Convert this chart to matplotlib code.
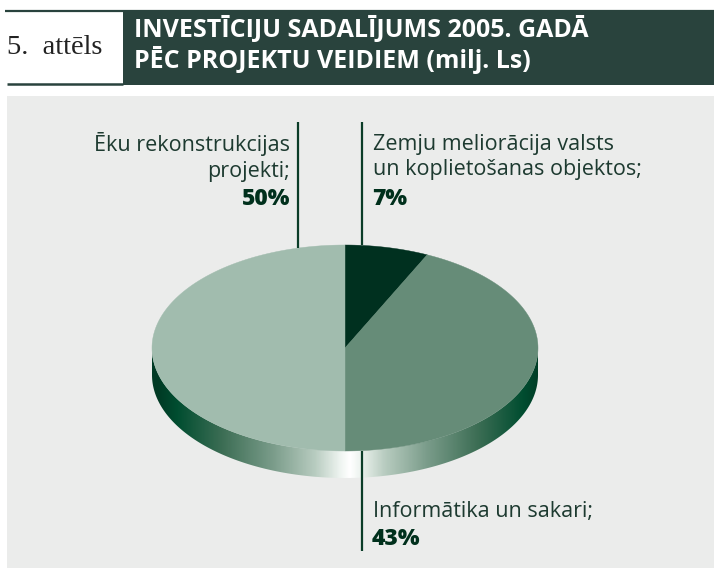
import numpy as np
import matplotlib
matplotlib.use("Agg")
import matplotlib.pyplot as plt
from matplotlib.patches import Polygon, Rectangle
from matplotlib.colors import LinearSegmentedColormap

# ---------------- data ----------------
categories = ["Zemju meliorācija valsts\nun koplietošanas objektos;",
              "Informātika un sakari;",
              "Ēku rekonstrukcijas\nprojekti;"]
shares = [7, 43, 50]
pct_labels = ["7%", "43%", "50%"]
slice_colors = ["#00301f", "#668c78", "#a1bcae"]

title_num = "5.  attēls"
title_text = "INVESTĪCIJU SADALĪJUMS 2005. GADĀ\nPĒC PROJEKTU VEIDIEM (milj. Ls)"

# ---------------- figure ----------------
W, H = 714, 572
fig = plt.figure(figsize=(W / 100, H / 100), dpi=100)
ax = fig.add_axes([0, 0, 1, 1])
ax.set_xlim(0, W)
ax.set_ylim(H, 0)
ax.axis("off")
fig.patch.set_facecolor("white")

header_col = "#29433d"
panel_col = "#ebeceb"
line_col = "#0b3d28"
label_col = "#1d3a30"
pct_col = "#00301c"
FONT = "Open Sans"

# header
ax.plot([5, W], [10.5, 10.5], color=header_col, lw=1.6, solid_capstyle="butt")
ax.plot([7, 123], [84, 84], color=header_col, lw=1.8, solid_capstyle="butt")
ax.add_patch(Rectangle((123, 10), W - 123, 75, facecolor=header_col, edgecolor="none"))
ax.text(7, 47, title_num, fontsize=20.5, family="Liberation Serif", color="#222222",
        va="center", ha="left")
ax.text(134, 45, title_text, fontsize=18, family=FONT, fontweight="bold",
        color="white", va="center", ha="left", linespacing=1.12)

# panel
ax.add_patch(Rectangle((7, 96), W - 7, 472, facecolor=panel_col, edgecolor="none"))

# ---------------- 3D pie ----------------
cx, cy, rx, ry, depth = 345, 348, 193, 103, 27


def ell(theta, dy=0.0):
    # theta measured clockwise from 12 o'clock
    return cx + rx * np.sin(theta), cy - ry * np.cos(theta) + dy


# side (lower half)
th = np.linspace(np.pi / 2, 3 * np.pi / 2, 200)
xt, yt = ell(th)
xb, yb = ell(th[::-1], depth)
side_poly = Polygon(np.column_stack([np.r_[xt, xb], np.r_[yt, yb]]),
                    closed=True, facecolor="none", edgecolor="none")
ax.add_patch(side_poly)
cmap = LinearSegmentedColormap.from_list(
    "side", [(0.0, "#003a24"), (0.1, "#004d30"), (0.34, "#3d6e55"),
             (0.6, "#7a9c8a"), (0.82, "#b8ccc0"), (0.95, "#eef4f0"), (1.0, "#ffffff")])
xs = np.linspace(cx - rx, cx + rx, 600)
t = np.clip(1 - np.abs(xs - 350) / rx, 0, 1)
img = np.tile(t, (2, 1))
im = ax.imshow(img, cmap=cmap, vmin=0, vmax=1, aspect="auto",
               extent=(cx - rx, cx + rx, cy + ry + depth + 2, cy - 2),
               interpolation="bilinear", zorder=1)
im.set_clip_path(side_poly)
ax.set_xlim(0, W)
ax.set_ylim(H, 0)

# top slices
total = float(sum(shares))
start = 0.0
for val, col in zip(shares, slice_colors):
    a0 = start / total * 2 * np.pi
    a1 = (start + val) / total * 2 * np.pi
    tt = np.linspace(a0, a1, max(int(val * 4), 10))
    px, py = ell(tt)
    poly = Polygon(np.column_stack([np.r_[cx, px], np.r_[cy, py]]), closed=True,
                   facecolor=col, edgecolor=col, lw=0.3, zorder=2)
    ax.add_patch(poly)
    start += val


def top_y(x, sign=-1):
    return cy + sign * ry * np.sqrt(max(0.0, 1 - ((x - cx) / rx) ** 2))


# leader lines and labels
lw_lead = 1.6
LFS, PFS = 15.5, 16.5
# 7%
x1 = 362
ax.plot([x1, x1], [122, top_y(x1)], color=line_col, lw=lw_lead, zorder=3, solid_capstyle="butt")
ax.text(373, 157, categories[0], fontsize=LFS, family=FONT, color=label_col,
        ha="left", va="center", linespacing=1.27)
ax.text(372, 199, pct_labels[0], fontsize=PFS, family=FONT, fontweight="heavy",
        color=pct_col, ha="left", va="center")
# 50%
x2 = 298
ax.plot([x2, x2], [122, top_y(x2)], color=line_col, lw=lw_lead, zorder=3, solid_capstyle="butt")
ax.text(290, 157, categories[2], fontsize=LFS, family=FONT, color=label_col,
        ha="right", va="center", linespacing=1.27, multialignment="right")
ax.text(290, 199, pct_labels[2], fontsize=PFS, family=FONT, fontweight="heavy",
        color=pct_col, ha="right", va="center")
# 43%
x3 = 362
ax.plot([x3, x3], [top_y(x3, 1), 551], color=line_col, lw=lw_lead, zorder=3, solid_capstyle="butt")
ax.text(373, 512, categories[1], fontsize=LFS, family=FONT, color=label_col,
        ha="left", va="center")
ax.text(372, 539, pct_labels[1], fontsize=PFS, family=FONT, fontweight="heavy",
        color=pct_col, ha="left", va="center")

fig.savefig("out.png", dpi=100, facecolor=fig.get_facecolor())
